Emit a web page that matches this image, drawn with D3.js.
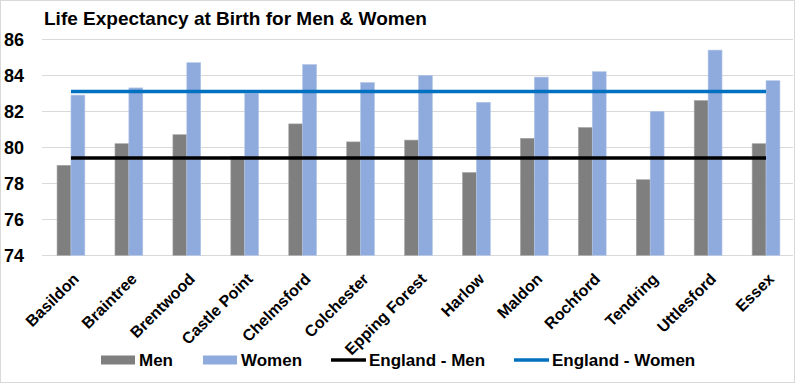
<!DOCTYPE html>
<html>
<head>
<meta charset="utf-8">
<script src="https://cdn.jsdelivr.net/npm/d3@7/dist/d3.min.js"></script>
<style>
  html, body { margin: 0; padding: 0; background: #fff; }
  svg { display: block; }
  text { font-family: "Liberation Sans", Arial, sans-serif; font-weight: bold; fill: #000; }
</style>
</head>
<body>
<script>
const categories = ["Basildon", "Braintree", "Brentwood", "Castle Point", "Chelmsford", "Colchester",
  "Epping Forest", "Harlow", "Maldon", "Rochford", "Tendring", "Uttlesford", "Essex"];
const men   = [79.0, 80.2, 80.7, 79.5, 81.3, 80.3, 80.4, 78.6, 80.5, 81.1, 78.2, 82.6, 80.2];
const women = [82.9, 83.3, 84.7, 83.0, 84.6, 83.6, 84.0, 82.5, 83.9, 84.2, 82.0, 85.4, 83.7];
const englandMen = 79.4;
const englandWomen = 83.1;
const yTicks = [74, 76, 78, 80, 82, 84, 86];
const title = "Life Expectancy at Birth for Men & Women";
const seriesNames = ["Men", "Women", "England - Men", "England - Women"];

const W = 795, H = 383;
const colMen = "#7f7f7f", colWomen = "#8faadc", colEngMen = "#000000", colEngWomen = "#0070c0";

const svg = d3.select("body").append("svg").attr("width", W).attr("height", H);
svg.append("rect").attr("x", 0.5).attr("y", 0.5).attr("width", W - 1).attr("height", H - 1)
  .attr("fill", "#fff").attr("stroke", "#d9d9d9");

const x = d3.scaleBand().domain(categories).range([42, 795]).paddingInner(0.52).paddingOuter(0.26);
const x1 = d3.scaleBand().domain(["Men", "Women"]).range([0, x.bandwidth()]);
const y = d3.scaleLinear().domain([74, 86]).range([255.3, 39.3]);

// title
svg.append("text").attr("x", 44).attr("y", 25).attr("font-size", 19).text(title);

// gridlines
svg.append("g").selectAll("line").data(yTicks).join("line")
  .attr("x1", 42).attr("x2", 793)
  .attr("y1", d => Math.round(y(d)) + 0.5).attr("y2", d => Math.round(y(d)) + 0.5)
  .attr("stroke", "#d9d9d9").attr("stroke-width", 1);

// y axis labels
const yAxis = d3.axisLeft(y).tickValues(yTicks).tickSize(0).tickPadding(0).tickFormat(d3.format("d"));
const gy = svg.append("g").attr("transform", "translate(24,0)").call(yAxis);
gy.select(".domain").remove();
gy.selectAll("text").attr("font-size", 18).attr("font-family", "Liberation Sans, Arial, sans-serif")
  .attr("font-weight", "bold").attr("fill", "#000");

// bars
const groups = svg.append("g").selectAll("g").data(categories).join("g")
  .attr("transform", d => `translate(${x(d)},0)`);
groups.append("rect")
  .attr("x", x1("Men")).attr("width", x1.bandwidth())
  .attr("y", (d, i) => y(men[i])).attr("height", (d, i) => y(74) - y(men[i]))
  .attr("fill", colMen).attr("stroke", "#a6a6a6").attr("stroke-width", 0.6);
groups.append("rect")
  .attr("x", x1("Women")).attr("width", x1.bandwidth())
  .attr("y", (d, i) => y(women[i])).attr("height", (d, i) => y(74) - y(women[i]))
  .attr("fill", colWomen).attr("stroke", "#b4c7e7").attr("stroke-width", 0.6);

// England lines
const cx = d => x(d) + x.bandwidth() / 2;
const line = d3.line().x(d => cx(d.c)).y(d => y(d.v));
svg.append("path").datum(categories.map(c => ({c, v: englandMen})))
  .attr("d", line).attr("fill", "none").attr("stroke", colEngMen).attr("stroke-width", 3.5);
svg.append("path").datum(categories.map(c => ({c, v: englandWomen})))
  .attr("d", line).attr("fill", "none").attr("stroke", colEngWomen).attr("stroke-width", 3.5);

// x labels
svg.append("g").selectAll("text").data(categories).join("text")
  .attr("transform", d => `translate(${cx(d) + 9},280) rotate(-45)`)
  .attr("text-anchor", "end").attr("font-size", 16).text(d => d);

// legend
const legX = [101, 203, 331, 514];
const legY = 360;
const leg = svg.append("g");
seriesNames.forEach((n, i) => {
  if (i < 2) {
    leg.append("rect").attr("x", legX[i]).attr("y", legY - 4.5).attr("width", 34).attr("height", 9)
      .attr("fill", i === 0 ? colMen : colWomen);
  } else {
    leg.append("line").attr("x1", legX[i]).attr("x2", legX[i] + 35).attr("y1", legY).attr("y2", legY)
      .attr("stroke", i === 2 ? colEngMen : colEngWomen).attr("stroke-width", 3.5);
  }
  leg.append("text").attr("x", legX[i] + 38).attr("y", legY + 6)
    .attr("font-size", 17).text(n);
});
</script>
</body>
</html>
